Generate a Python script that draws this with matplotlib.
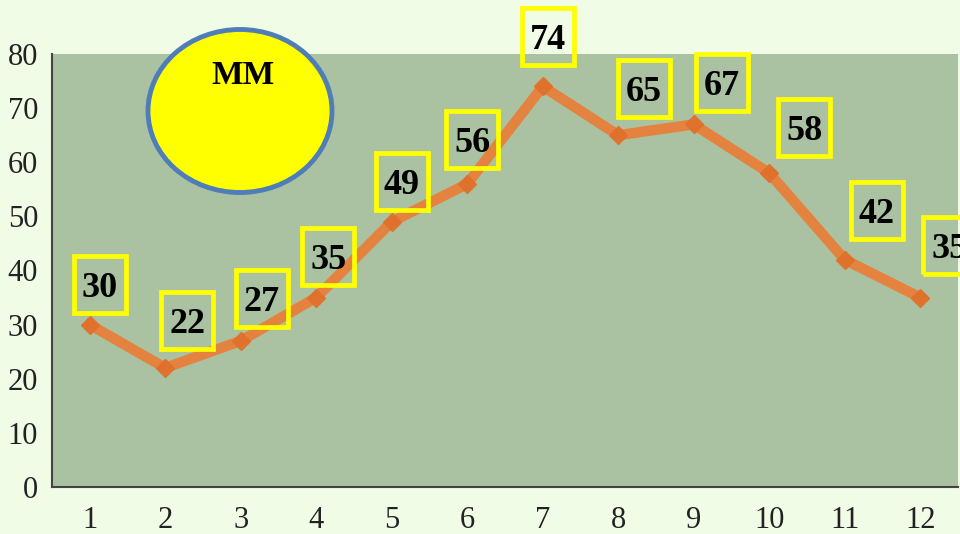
import matplotlib
matplotlib.use("Agg")
import matplotlib.pyplot as plt
import matplotlib.transforms as mtransforms
from matplotlib.patches import Ellipse, Rectangle

months = [1, 2, 3, 4, 5, 6, 7, 8, 9, 10, 11, 12]
values = [30, 22, 27, 35, 49, 56, 74, 65, 67, 58, 42, 35]
y_ticks = [0, 10, 20, 30, 40, 50, 60, 70, 80]
legend_text = "MM"

# label offsets in pixels (dx, dy) relative to each point
label_dx = [10, 22, 21, 12, 10, 5, 5, 26, 28, 35, 32, 29]
label_dy = [40, 47, 42, 41, 40, 44, 50, 47, 42, 46, 49, 52]

plt.rcParams['font.family'] = ['Liberation Serif', 'DejaVu Serif']

DPI = 100
fig = plt.figure(figsize=(9.6, 5.34), dpi=DPI)
fig.patch.set_facecolor('#F1FCE7')
ax = fig.add_axes([52/960, 47/534, 906/960, 433/534])
ax.set_facecolor('#AAC2A2')

ax.plot(months, values, color='#E8803A', linewidth=7.5, solid_joinstyle='miter',
        marker='D', markersize=9, markerfacecolor='#E0712B', markeredgecolor='#E0712B',
        zorder=3, alpha=0.95)

box_w, box_h = 52 / DPI, 57 / DPI
for x, v, dx, dy in zip(months, values, label_dx, label_dy):
    trans = fig.dpi_scale_trans + mtransforms.ScaledTranslation(x, v, ax.transData)
    cx, cy = dx / DPI, dy / DPI
    rect = Rectangle((cx - box_w / 2, cy - box_h / 2), box_w, box_h, transform=trans,
                     facecolor='none', edgecolor='#FFFF00', linewidth=3.4,
                     clip_on=False, zorder=5)
    ax.add_patch(rect)
    ax.text(cx, cy, str(v), transform=trans, ha='center', va='center_baseline',
            fontsize=26, fontweight='bold', color='black', zorder=6, clip_on=False)

ax.set_xlim(0.5, 12.5)
ax.set_ylim(0, 80)
ax.set_xticks(months)
ax.set_xticklabels([str(m) for m in months])
ax.set_yticks(y_ticks)
ax.tick_params(axis='both', length=0, labelsize=22, colors='#222222')
ax.tick_params(axis='x', pad=14)
ax.tick_params(axis='y', pad=10)
for s in ['top', 'right']:
    ax.spines[s].set_visible(False)
for s in ['left', 'bottom']:
    ax.spines[s].set_color('#444444')
    ax.spines[s].set_linewidth(1.5)

# legend-like ellipse in figure pixel coords
ell = Ellipse((240/960, 1 - 111/534), 184/960, 163/534, transform=fig.transFigure,
              facecolor='#FFFF00', edgecolor='#4F7DB8', linewidth=3.5, zorder=10)
fig.patches.append(ell)
fig.text(243/960, 1 - 76/534, legend_text, ha='center', va='center', fontsize=24,
         fontweight='bold', color='black', zorder=11)

fig.savefig('out.png', dpi=DPI, facecolor=fig.get_facecolor())
